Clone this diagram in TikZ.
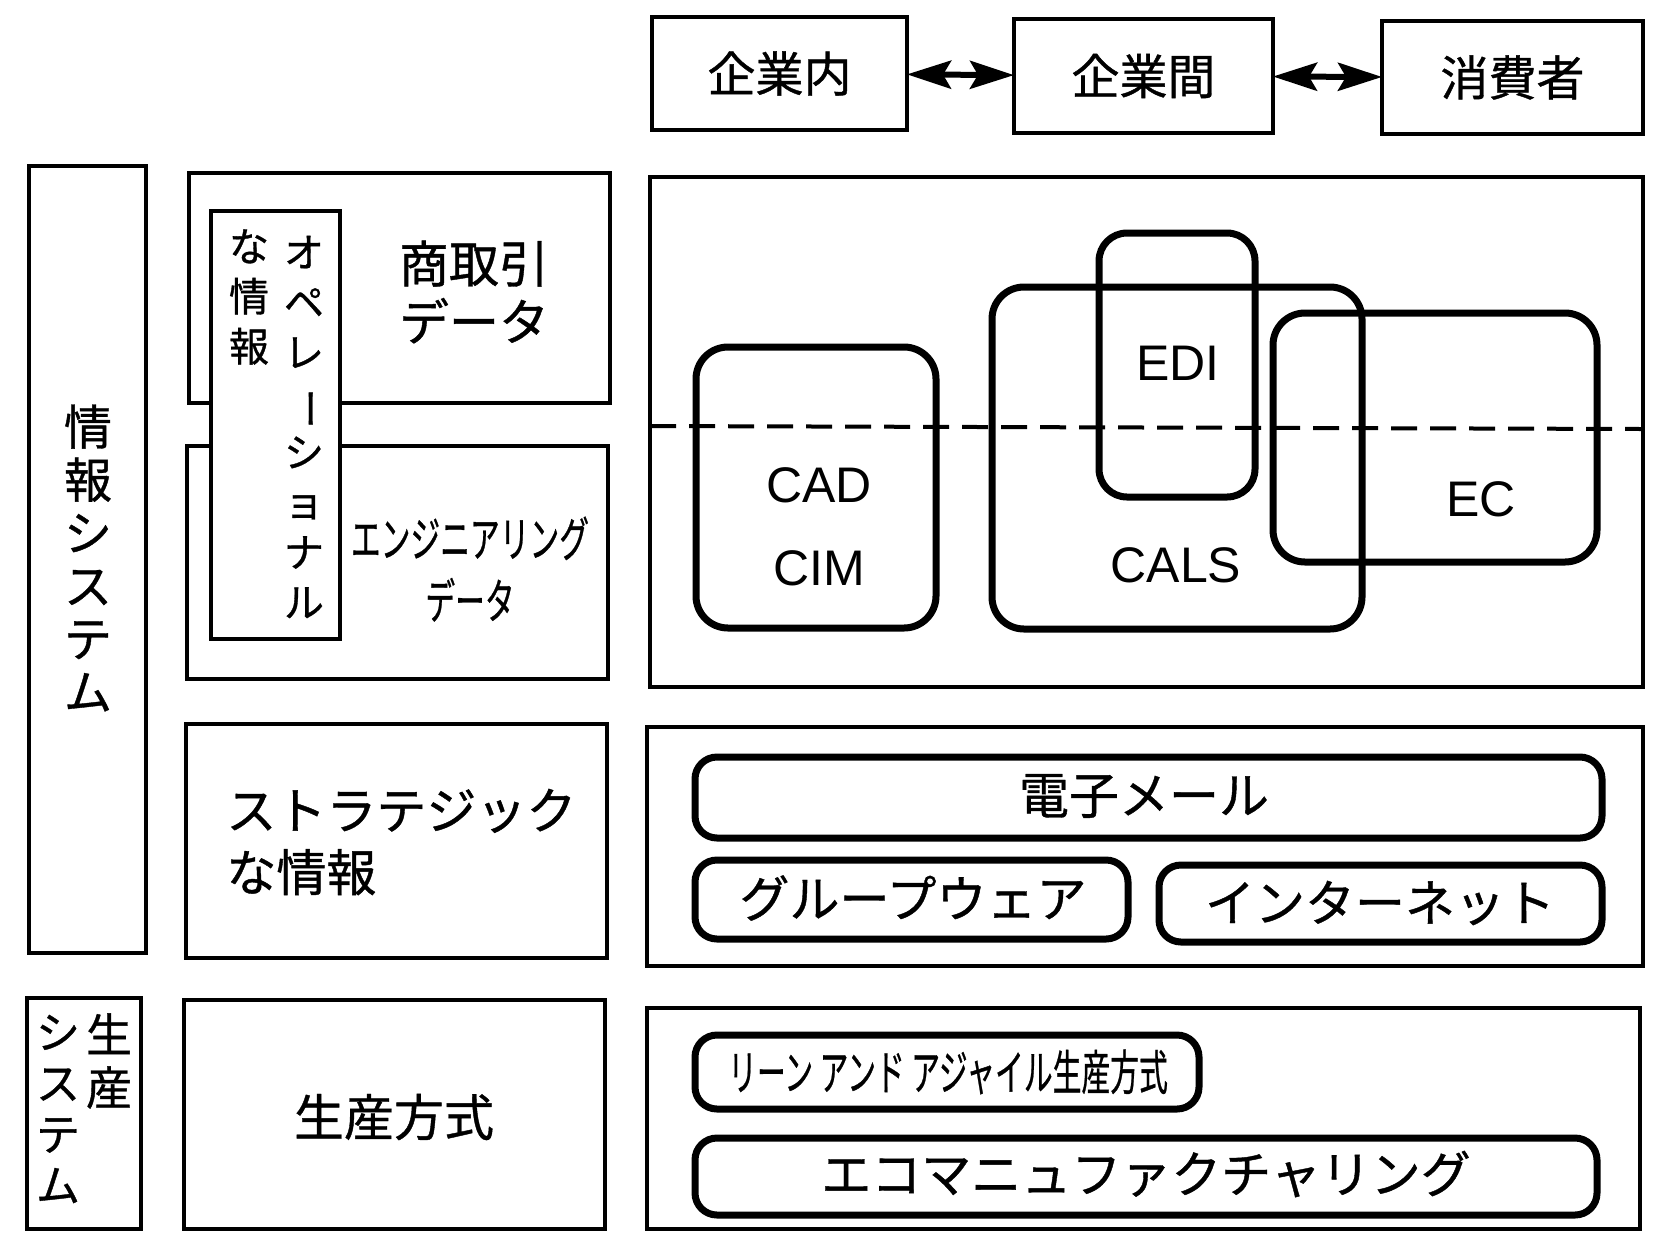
\documentclass[tikz,border=0pt]{standalone}
\usepackage{fontspec}
\newfontfamily\jp[FakeBold=0.8]{Noto Sans CJK JP}
\newfontfamily\lat{Liberation Sans}
\usetikzlibrary{fit,arrows.meta}
\tikzset{
  box/.style={draw, line width=2pt, inner sep=0pt, outer sep=0pt},
  rbox/.style={draw, line width=3.5pt, rounded corners=16pt, inner sep=0pt},
  pbox/.style={draw, line width=3.5pt, rounded corners=11pt, inner sep=0pt},
  jt/.style={font=\jp\fontsize{25}{30}\selectfont, inner sep=0pt},
  lt/.style={font=\lat\fontsize{25}{30}\selectfont, inner sep=0pt},
  link/.style={line width=3pt, {Stealth[length=22pt,width=14pt,inset=4pt]}-{Stealth[length=22pt,width=14pt,inset=4pt]}},
}
\begin{document}
\begin{tikzpicture}[x=0.5pt,y=-0.5pt]
\useasboundingbox (0,0) rectangle (1664,1233);

% top row
\node[box, fit={(652,17)(907,130)}] (inner) {};
\node[box, fit={(1014,19)(1273,133)}] (between) {};
\node[box, fit={(1382,21)(1643,134)}] (consumer) {};
\node[jt, font=\jp\fontsize{24}{29}\selectfont] (innert) at (inner) {企業内};
\node[jt, font=\jp\fontsize{24}{29}\selectfont] (betweent) at (between) {企業間};
\node[jt, font=\jp\fontsize{24}{29}\selectfont] (consumert) at (consumer) {消費者};
\draw[link] (inner) -- (between);
\draw[link] (between) -- (consumer);

% left column
\node[box, fit={(29,166)(146,953)}] (infosys) {};
\node[jt, font=\jp\fontsize{24}{26.5}\selectfont, align=center] (infosyst) at (88,558) {情\\報\\シ\\ス\\テ\\ム};

\node[box, fit={(189,173)(610,403)}] (trade) {};
\node[jt, align=center, font=\jp\fontsize{25}{29}\selectfont] (tradet) at (474,292) {商取引\\データ};
\node[box, fit={(187,446)(608,679)}] (eng) {};
\node[jt, align=center, font=\jp\fontsize{24}{31}\selectfont] (engt) at (470,569) {\scalebox{0.62}[1]{エンジニアリング}\\\scalebox{0.62}[1]{データ}};

\node[box, fill=white, fit={(211,211)(340,639)}] (oper) {};
\node[jt, align=center, font=\jp\fontsize{20}{25}\selectfont] (opert) at (304,427) {オ\\ペ\\レ\\\rotatebox[origin=c]{-90}{ー}\\シ\\ョ\\ナ\\ル};
\node[jt, align=center, font=\jp\fontsize{20}{25}\selectfont] (opert2) at (249,297) {な\\情\\報};

\node[box, fit={(186,724)(607,958)}] (strat) {};
\node[jt, align=left, anchor=west, font=\jp\fontsize{25}{31}\selectfont] (stratt) at (226,842) {ストラテジック\\な情報};

\node[box, fit={(27,998)(141,1229)}] (prodsys) {};
\node[jt, align=center, font=\jp\fontsize{23}{26.5}\selectfont] (prodsyst1) at (109,1061) {生\\産};
\node[jt, align=center, font=\jp\fontsize{22}{25.5}\selectfont] (prodsyst2) at (58,1109) {シ\\ス\\テ\\ム};

\node[box, fit={(184,1000)(605,1229)}] (prodmeth) {};
\node[jt] (prodmetht) at (394,1117) {生産方式};

% right panel 1
\node[box, fit={(650,177)(1643,687)}] (r1) {};
\node[rbox, fit={(696,347)(936,628)}] (cad) {};
\node[rbox, fit={(992,287)(1362,629)}] (cals) {};
\node[rbox, rounded corners=14pt, fit={(1099,233)(1255,497)}] (edi) {};
\node[rbox, fit={(1273,313)(1597,562)}] (ec) {};
\draw[line width=2pt, dash pattern=on 13pt off 6.5pt] (650,426) -- (1643,429);
\node[lt] (cadt) at (819,485) {CAD};
\node[lt] (cimt) at (819,568) {CIM};
\node[lt] (calst) at (1176,565) {CALS};
\node[lt] (edit) at (1178,363) {EDI};
\node[lt] (ect) at (1481,499) {EC};

% right panel 2
\node[box, fit={(647,727)(1643,966)}] (r2) {};
\node[pbox, fit={(695,757)(1602,838)}] (mail) {};
\node[pbox, fit={(695,860)(1128,939)}] (group) {};
\node[pbox, fit={(1159,865)(1602,942)}] (inet) {};
\node[jt] (mailt) at (1144,796) {電子メール};
\node[jt] (groupt) at (913,898) {グループウェア};
\node[jt] (inett) at (1380,903) {インターネット};

% right panel 3
\node[box, fit={(647,1008)(1640,1229)}] (r3) {};
\node[pbox, fit={(695,1035)(1199,1109)}] (lean) {};
\node[pbox, fit={(695,1138)(1597,1215)}] (eco) {};
\node[jt, font=\jp\fontsize{24}{29}\selectfont] (leant) at (948,1072) {\scalebox{0.6}[1]{リーン アンド アジャイル生産方式}};
\node[jt] (ecot) at (1146,1174) {エコマニュファクチャリング};
\end{tikzpicture}
\end{document}
